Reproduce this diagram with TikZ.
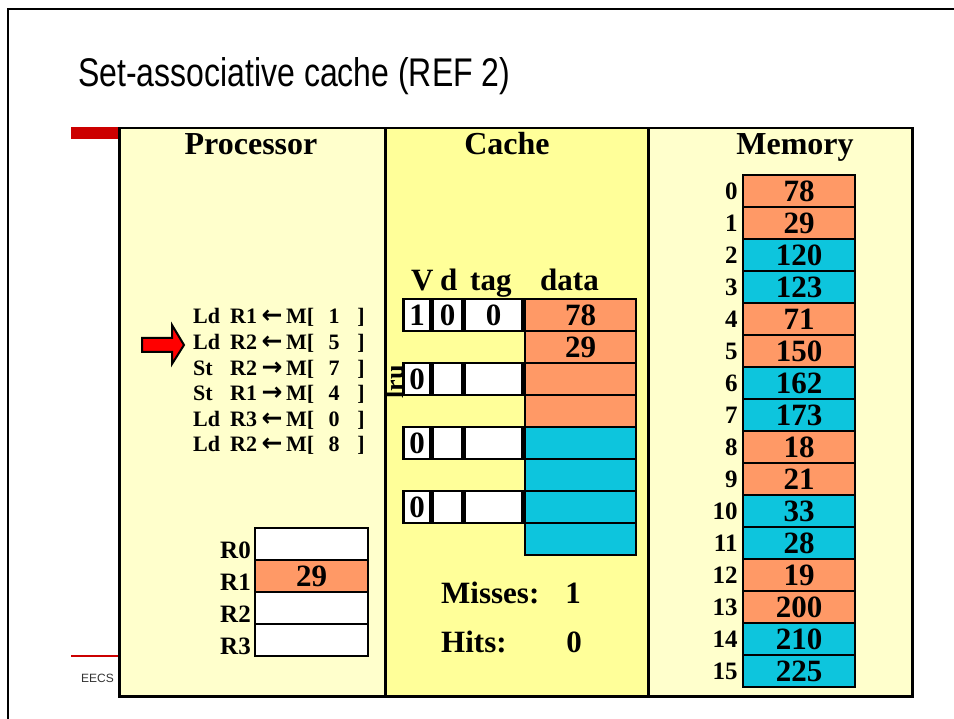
\documentclass[tikz,border=0pt]{standalone}
\usepackage{fontspec}
\setmainfont{Liberation Serif}
\setsansfont{Liberation Sans}
\newfontfamily\arrowfont{DejaVu Sans}
\usepackage{tikz}
\usetikzlibrary{positioning}
\definecolor{panel}{HTML}{FFFFCC}
\definecolor{cachebg}{HTML}{FFFF99}
\definecolor{salmon}{HTML}{FF9966}
\definecolor{aqua}{HTML}{0DC5DD}
\definecolor{slidered}{HTML}{CC0000}
\newcommand{\bfsize}[1]{\fontsize{#1}{#1}\selectfont\bfseries}

\begin{document}
\begin{tikzpicture}[x=1pt,y=-1pt,
  pane/.style={draw,line width=2.5pt,inner sep=0pt,anchor=north west,minimum height=568pt},
  cell/.style={draw,line width=2.5pt,inner sep=0pt,minimum height=32pt,font=\bfsize{31}},
  paneltitle/.style={anchor=base,inner sep=0pt,font=\bfsize{32}},
  head/.style={anchor=base west,inner sep=0pt,font=\bfsize{31}},
  instr/.style={inner sep=0pt,font=\bfsize{22}},
  addr/.style={inner sep=0pt,font=\bfsize{25}},
  stat/.style={inner sep=0pt,font=\bfsize{31}}]
  \useasboundingbox (0,0) rectangle (954,719);
  \draw[line width=2pt] (8,719) -- (8,9) -- (954,9);
  \node[anchor=base west,inner sep=0pt,font=\sffamily\fontsize{40}{40}\selectfont] (title) at (78,87) {\scalebox{0.8}[1]{Set-associative cache (REF 2)}};
  \fill[slidered] (71,127) rectangle (118,139);
  \draw[slidered,line width=1.5pt] (71,656) -- (118,656);
  \node[anchor=base west,inner sep=0pt,text=black!80,font=\sffamily\fontsize{12}{12}\selectfont] (eecs) at (81,682) {EECS};

  \node[pane,fill=panel,minimum width=266pt] (proc) at (118,127) {};
  \node[pane,fill=cachebg,minimum width=263pt] (cache) at (384,127) {};
  \node[pane,fill=panel,minimum width=264pt] (mem) at (647,127) {};
  \node[paneltitle] (proctitle) at (251,155) {Processor};
  \node[paneltitle] (cachetitle) at (507,155) {Cache};
  \node[paneltitle] (memtitle) at (795,155) {Memory};

  \foreach \op/\rg/\dir/\ad [count=\i from 0] in {Ld/R1/←/1,Ld/R2/←/5,St/R2/→/7,St/R1/→/4,Ld/R3/←/0,Ld/R2/←/8}{
    \node[instr,anchor=base west] (op\i) at (193,324+25.6*\i) {\op};
    \node[instr,anchor=base west] (rg\i) at (230,324+25.6*\i) {\rg};
    \node[instr,anchor=base,font=\arrowfont\bfsize{25}] (dir\i) at (272,324+25.6*\i) {\dir};
    \node[instr,anchor=base west] (mm\i) at (286,324+25.6*\i) {M[};
    \node[instr,anchor=base] (ad\i) at (334,324+25.6*\i) {\ad};
    \node[instr,anchor=base] (br\i) at (361,324+25.6*\i) {]};
  }
  \draw[fill=red,line width=2pt,line join=miter] (142,338) -- (172,338) -- (172,325) -- (184,345) -- (172,364) -- (172,352) -- (142,352) -- cycle;

  \foreach \r/\val/\col [count=\i from 0] in {R0/{}/white,R1/29/salmon,R2/{}/white,R3/{}/white}{
    \node[cell,fill=\col,minimum width=113pt] (reg\i) at (311.5,544+32*\i) {\val};
    \node[instr,anchor=base east,font=\bfsize{25}] (rname\i) at (251,558+32*\i) {\r};
  }

  \node[head] (hv) at (411,291) {V};
  \node[head] (hd) at (440,291) {d};
  \node[head] (htag) at (470,291) {tag};
  \node[head] (hdata) at (540,291) {data};
  \foreach \val/\col [count=\k from 0] in {78/salmon,29/salmon,{}/salmon,{}/salmon,{}/aqua,{}/aqua,{}/aqua,{}/aqua}
    \node[cell,fill=\col,minimum width=111pt] (data\k) at (580.5,315+32*\k) {\val};
  \foreach \vb/\db/\tb/\k in {1/0/0/0,0/{}/{}/2,0/{}/{}/4,0/{}/{}/6}{
    \node[cell,fill=white,minimum width=58pt,left=0pt of data\k] (tag\k) {\tb};
    \node[cell,fill=white,minimum width=29pt,left=0pt of tag\k] (d\k) {\db};
    \node[cell,fill=white,minimum width=27pt,left=0pt of d\k] (v\k) {\vb};
  }
  \node[inner sep=0pt,anchor=center,rotate=90,font=\bfsize{26}] (lru) at (395,382) {lru};
  \node[stat,anchor=base west] (misses) at (441,603) {Misses:};
  \node[stat,anchor=base] (nmisses) at (573,603) {1};
  \node[stat,anchor=base west] (hits) at (441,652) {Hits:};
  \node[stat,anchor=base] (nhits) at (574,652) {0};

  \foreach \val/\col [count=\i from 0] in {78/salmon,29/salmon,120/aqua,123/aqua,71/salmon,150/salmon,162/aqua,173/aqua,18/salmon,21/salmon,33/aqua,28/aqua,19/salmon,200/salmon,210/aqua,225/aqua}{
    \node[cell,fill=\col,minimum width=112pt] (m\i) at (799,191+32*\i) {\val};
    \node[addr,left=4pt of m\i] (a\i) {\i};
  }
\end{tikzpicture}
\end{document}
